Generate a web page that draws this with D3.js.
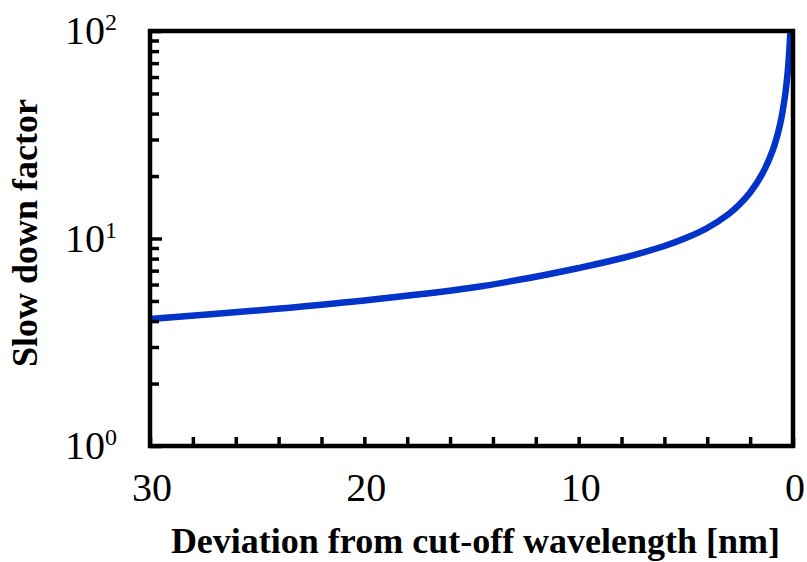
<!DOCTYPE html>
<html>
<head>
<meta charset="utf-8">
<script src="https://cdn.jsdelivr.net/npm/d3@7"></script>
<style>
  body { margin: 0; background: #fff; }
  text { font-family: "Liberation Serif", "Times New Roman", serif; }
</style>
</head>
<body>
<div id="chart"></div>
<script>
const width = 807, height = 562;
const margin = { top: 31, right: 14, bottom: 116, left: 150 };

// deviation from cut-off [nm] and slow down factor
const deviation = [30, 25, 20, 15, 12.5, 10, 8, 6, 5, 4, 3, 2.5, 2, 1.4, 0.93, 0.61, 0.37, 0.23, 0.12];
const slowDown  = [4.09, 4.50, 5.03, 5.79, 6.40, 7.21, 8.03, 9.20, 10.05, 11.24, 13.13, 14.59, 16.67, 20.8, 26.9, 35.2, 48.8, 66.4, 100];

const xTickValues = d3.range(0, 31, 2);
const xLabelValues = [30, 20, 10, 0];
const yMajor = [1, 10, 100];
const yMinor = [2, 3, 4, 5, 6, 7, 8, 9, 20, 30, 40, 50, 60, 70, 80, 90];

const data = deviation.map((d, i) => ({ d: d, v: slowDown[i] }));

const svg = d3.select("#chart").append("svg")
  .attr("width", width)
  .attr("height", height);

const x = d3.scaleLinear().domain([30, 0]).range([margin.left, width - margin.right]);
const y = d3.scaleLog().domain([1, 100]).range([height - margin.bottom, margin.top]);

// curve
const line = d3.line()
  .x(d => x(d.d))
  .y(d => y(d.v))
  .curve(d3.curveCatmullRom.alpha(0.5));

svg.append("path")
  .datum(data)
  .attr("d", line)
  .attr("fill", "none")
  .attr("stroke", "#0333c9")
  .attr("stroke-width", 6.5);

// x ticks (inside)
const xAxis = svg.append("g")
  .attr("transform", `translate(0,${height - margin.bottom})`)
  .call(d3.axisBottom(x).tickValues(xTickValues).tickSize(-9).tickFormat(""));
xAxis.select(".domain").remove();
xAxis.selectAll(".tick line").attr("stroke", "#000").attr("stroke-width", 3.5);

// y ticks (inside), major longer than minor
const yAxis = svg.append("g")
  .attr("transform", `translate(${margin.left},0)`)
  .call(d3.axisLeft(y).tickValues(yMajor.concat(yMinor)).tickSize(-9).tickFormat(""));
yAxis.select(".domain").remove();
yAxis.selectAll(".tick line")
  .attr("stroke", "#000")
  .attr("stroke-width", 3.5)
  .attr("x2", d => yMajor.includes(d) ? 12 : 9);

// frame
svg.append("rect")
  .attr("x", margin.left)
  .attr("y", margin.top)
  .attr("width", width - margin.left - margin.right)
  .attr("height", height - margin.top - margin.bottom)
  .attr("fill", "none")
  .attr("stroke", "#000")
  .attr("stroke-width", 4.5);

// x labels
svg.append("g").selectAll("text")
  .data(xLabelValues)
  .join("text")
  .attr("x", d => x(d) + 2)
  .attr("y", 501)
  .attr("text-anchor", "middle")
  .attr("font-size", 40)
  .text(d => d);

// y labels 10^n
const yl = svg.append("g").selectAll("text")
  .data(yMajor)
  .join("text")
  .attr("x", 117)
  .attr("y", d => y(d) + 13)
  .attr("text-anchor", "end")
  .attr("font-size", 40);
yl.append("tspan").text("10");
yl.append("tspan")
  .attr("font-size", 24)
  .attr("dy", -14)
  .text(d => Math.round(Math.log10(d)));

// axis titles
svg.append("text")
  .attr("x", (margin.left + width - margin.right) / 2 + 4)
  .attr("y", 553)
  .attr("text-anchor", "middle")
  .attr("font-weight", "bold")
  .attr("font-size", 36)
  .text("Deviation from cut-off wavelength [nm]");

svg.append("text")
  .attr("transform", `translate(37,${233}) rotate(-90)`)
  .attr("text-anchor", "middle")
  .attr("font-weight", "bold")
  .attr("font-size", 36)
  .text("Slow down factor");
</script>
</body>
</html>
